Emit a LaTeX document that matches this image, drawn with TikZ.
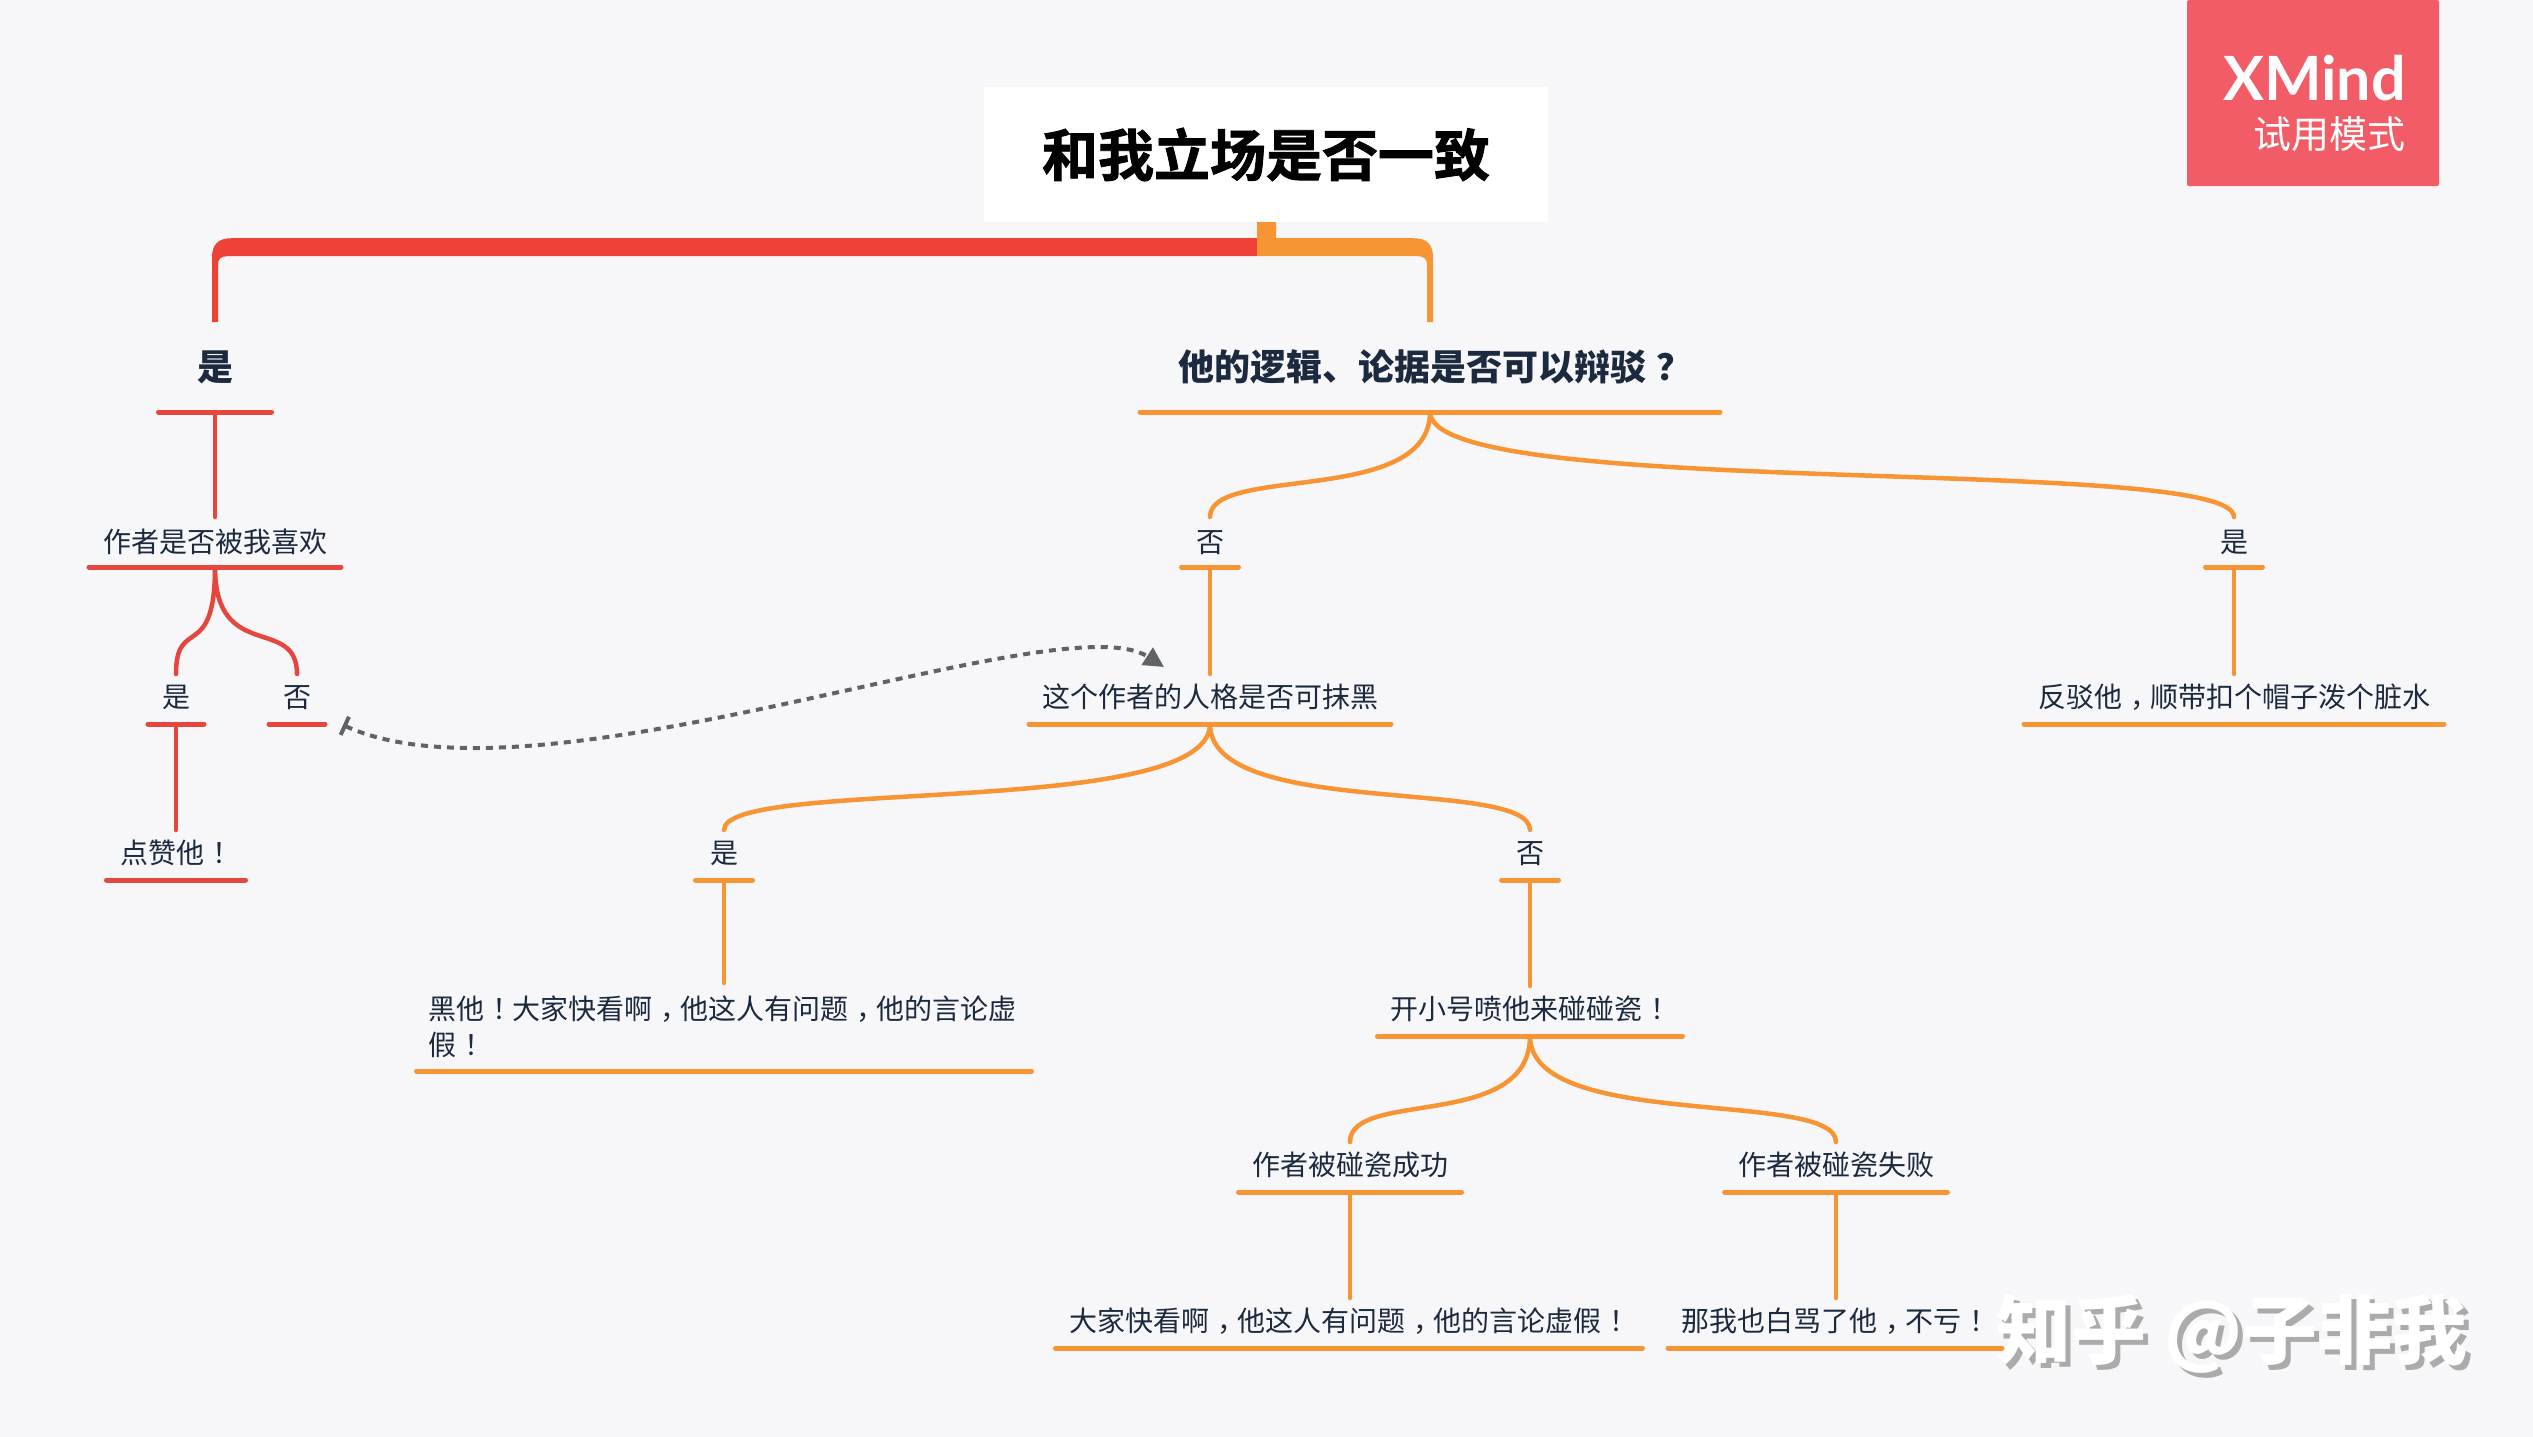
\documentclass[tikz,border=0pt]{standalone}
\usepackage{fontspec}
\usetikzlibrary{calc,arrows.meta}
\setmainfont{Noto Sans CJK SC}
\newfontfamily\latfont{Lato}
\newfontfamily\heavyfont[FakeBold=1.5]{Noto Sans CJK SC Bold}
\definecolor{bgc}{HTML}{F7F7F9}
\definecolor{rd}{HTML}{E5473F}
\definecolor{rdtop}{HTML}{EF4136}
\definecolor{og}{HTML}{F79433}
\definecolor{ink}{HTML}{1B2A3F}
\definecolor{badgec}{HTML}{F25C66}
\definecolor{dashc}{HTML}{5F6266}
\tikzset{
  x=1pt,y=-1pt,
  topicbase/.style={inner sep=0pt,outer sep=0pt,minimum height=50pt,text=ink,font=\fontsize{28}{36}\selectfont},
  topic/.style={topicbase,text height=25pt,text depth=9pt},
  topictwo/.style={topicbase,text height=25pt,text depth=5pt},
  big/.style={inner sep=0pt,outer sep=0pt,minimum height=90pt,text=ink,font=\fontsize{36}{42}\selectfont\bfseries},
  rl/.style={draw=rd,line width=5pt,line cap=round},
  ol/.style={draw=og,line width=5pt,line cap=round},
  rc/.style={draw=rd,line width=4.5pt,line cap=round},
  oc/.style={draw=og,line width=4.5pt,line cap=round},
  rel/.style={draw=dashc,line width=4pt,dash pattern=on 7pt off 6pt,
    {Bar[width=20pt,line width=4pt]}-{Triangle[width=20pt,length=20pt]}},
}
% full-width punctuation set in the middle of its cell
\newcommand{\pc}[1]{\kern.3em#1\kern-.3em}
% underline of a topic
\newcommand{\ul}[2]{\draw[#1] (#2.south west) -- (#2.south east);}
% S-shaped link from a parent's underline to a child's top
\newcommand{\lnk}[5]{\draw[#1] (#2.south) .. controls ($(#2.south)!#4!(#2.south |- #3.north)$) and ($(#3.north)!#5!(#3.north |- #2.south)$) .. (#3.north);}
\begin{document}
\begin{tikzpicture}
\useasboundingbox (0,0) rectangle (2533,1437);
\fill[bgc] (0,0) rectangle (2533,1437);

% badge
\node[fill=badgec,inner sep=0pt,minimum width=252pt,minimum height=186pt,rounded corners=2pt] (badge) at (2313,93) {};
\node[anchor=east,inner sep=0pt,text=white,font=\latfont\fontsize{61}{61}\selectfont\bfseries] (xm) at (2406,78) {XMind};
\node[anchor=east,inner sep=0pt,text=white,font=\fontsize{38}{40}\selectfont] (trial) at (2406,134) {试用模式};

% root
\node[fill=white,inner sep=0pt,minimum width=564pt,minimum height=135pt,font=\heavyfont\fontsize{56}{60}\selectfont,text=black] (root) at (1266,154.5) {和我立场是否一致};

% level 1
\node[big,minimum width=113pt] (yes) at (215,367) {是};
\node[big,minimum width=580pt] (logic) at (1430,367) {他的逻辑、论据是否可以辩驳\pc{？}};

% level 2
\node[topictwo,minimum width=252pt] (liked) at (215,542) {作者是否被我喜欢};
\node[topictwo,minimum width=57pt] (lno) at (1210,542) {否};
\node[topictwo,minimum width=57pt] (lyes) at (2234,542) {是};

% level 3
\node[topic,minimum width=56pt] (likeyes) at (176,699) {是};
\node[topic,minimum width=56pt] (likeno) at (297,699) {否};
\node[topic,minimum width=362pt] (person) at (1210,699) {这个作者的人格是否可抹黑};
\node[topic,minimum width=420pt] (refute) at (2234,699) {反驳他\pc{，}顺带扣个帽子泼个脏水};

% level 4
\node[topic,minimum width=139pt] (praise) at (176,855) {点赞他\pc{！}};
\node[topic,minimum width=57pt] (pyes) at (724,855) {是};
\node[topic,minimum width=57pt] (pno) at (1530,855) {否};

% level 5
\node[topicbase,minimum width=615pt,minimum height=88pt,text width=592pt,align=left] (smear) at (724,1027) {黑他\pc{！}大家快看啊\pc{，}他这人有问题\pc{，}他的言论虚\\假\pc{！}};
\node[topic,minimum width=305pt] (troll) at (1530,1011) {开小号喷他来碰碰瓷\pc{！}};

% level 6
\node[topic,minimum width=223pt] (succ) at (1350,1167) {作者被碰瓷成功};
\node[topic,minimum width=223pt] (fail) at (1836,1167) {作者被碰瓷失败};

% level 7
\node[topic,minimum width=587pt] (shout) at (1349,1323) {大家快看啊\pc{，}他这人有问题\pc{，}他的言论虚假\pc{！}};
\node[topic,minimum width=334pt] (fine) at (1835,1323) {那我也白骂了他\pc{，}不亏\pc{！}};

% trunk connectors
\fill[rdtop] let \p1=(yes.north),\p2=(root.south) in
  (\x2-9pt,\y2-16pt) -- (\x1+17pt,\y2-16pt)
  .. controls (\x1+3pt,\y2-16pt) and (\x1-3pt,\y2-22pt) .. (\x1-3pt,\y2-36pt)
  -- (\x1-3pt,\y1) -- (\x1+3pt,\y1) -- (\x1+3pt,\y2-42pt)
  .. controls (\x1+3pt,\y2-37pt) and (\x1+6pt,\y2-34pt) .. (\x1+12pt,\y2-34pt)
  -- (\x2-9pt,\y2-34pt) -- cycle;
\fill[og] let \p1=(logic.north),\p2=(root.south) in
  (\x2-9pt,\y2) -- (\x2+10pt,\y2) -- (\x2+10pt,\y2-16pt) -- (\x1-17pt,\y2-16pt)
  .. controls (\x1-3pt,\y2-16pt) and (\x1+3pt,\y2-22pt) .. (\x1+3pt,\y2-36pt)
  -- (\x1+3pt,\y1) -- (\x1-3pt,\y1) -- (\x1-3pt,\y2-42pt)
  .. controls (\x1-3pt,\y2-37pt) and (\x1-6pt,\y2-34pt) .. (\x1-12pt,\y2-34pt)
  -- (\x2-9pt,\y2-34pt) -- cycle;

% underlines
\foreach \n in {yes,liked,likeyes,likeno,praise}{\ul{rl}{\n}}
\foreach \n in {logic,lno,lyes,person,refute,pyes,pno,smear,troll,succ,fail,shout,fine}{\ul{ol}{\n}}

% straight connectors
\draw[rc] (yes.south) -- (liked.north);
\draw[rc] (likeyes.south) -- (praise.north);
\draw[oc] (lno.south) -- (person.north);
\draw[oc] (lyes.south) -- (refute.north);
\draw[oc] (pyes.south) -- (smear.north);
\draw[oc] (pno.south) -- (troll.north);
\draw[oc] (succ.south) -- (shout.north -| succ.south);
\draw[oc] (fail.south) -- (fine.north -| fail.south);

% curved connectors
\lnk{rc}{liked}{likeyes}{0.9}{0.55}
\lnk{rc}{liked}{likeno}{0.9}{0.55}
\lnk{oc}{logic}{lno}{0.9}{0.5}
\lnk{oc}{logic}{lyes}{0.85}{0.6}
\lnk{oc}{person}{pyes}{0.9}{0.5}
\lnk{oc}{person}{pno}{0.9}{0.5}
\lnk{oc}{troll}{succ}{0.9}{0.5}
\lnk{oc}{troll}{fail}{0.9}{0.5}

% relationship
\draw[rel] ([xshift=18pt,yshift=-1pt]likeno.south east)
  .. controls (540,815) and (1060,600) .. ([xshift=135pt,yshift=7pt]person.north west);

% watermark
\node[inner sep=0pt,text=black!33,font=\fontsize{75}{78}\selectfont\bfseries] (mark) at (2237,1339) {知乎 @子非我};
\node[inner sep=0pt,text=white,font=\fontsize{75}{78}\selectfont\bfseries] (markw) at (2232,1334) {知乎 @子非我};
\end{tikzpicture}
\end{document}
